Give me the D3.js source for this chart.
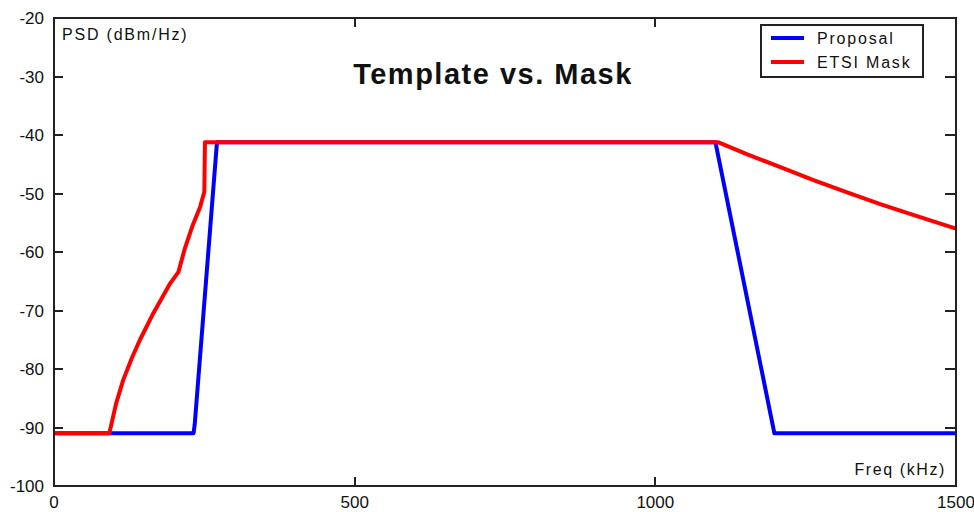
<html>
<head>
<title>Template vs. Mask</title>
<style>
body { margin: 0; background: #fff; }
text { font-family: "Liberation Sans", Arial, sans-serif; fill: #111; }
</style>
</head>
<body>
<svg id="chart" width="974" height="512"></svg>
<script src="https://cdn.jsdelivr.net/npm/d3@7"></script>
<script>
// values
const xTicks = [0, 500, 1000, 1500];
const yTicks = [-20, -30, -40, -50, -60, -70, -80, -90, -100];

const proposalFreq = [0, 232, 234, 271, 1100, 1198, 1500];
const proposalPsd  = [-91, -91, -89.5, -41.25, -41.25, -91, -91];

const maskFreq = [0, 92, 103, 115, 130, 143, 165, 193, 207, 217, 230, 243, 250, 251, 1105, 1153, 1208, 1263, 1319, 1374, 1430, 1500];
const maskPsd  = [-91, -91, -86, -81.9, -78, -75, -70.5, -65.4, -63.4, -59.6, -55.6, -52.3, -49.7, -41.25, -41.25, -43.3, -45.5, -47.7, -49.8, -51.8, -53.7, -56.0];

const seriesNames = ["Proposal", "ETSI Mask"];
const seriesColors = ["#0000ff", "#ff0000"];

const margin = {left: 54, top: 18, right: 18, bottom: 26};
const W = 974, H = 512;
const w = W - margin.left - margin.right;
const h = H - margin.top - margin.bottom;

const svg = d3.select("#chart");
const g = svg.append("g").attr("transform", `translate(${margin.left},${margin.top})`);

const x = d3.scaleLinear().domain([0, 1500]).range([0, w]);
const y = d3.scaleLinear().domain([-100, -20]).range([h, 0]);

// inner tick marks
const inner = yTicks.filter(v => v > -100 && v < -20);
g.selectAll(".ytl").data(inner).join("line")
  .attr("x1", 0).attr("x2", 9)
  .attr("y1", d => y(d)).attr("y2", d => y(d))
  .attr("stroke", "#222").attr("stroke-width", 2).attr("shape-rendering", "crispEdges");
g.selectAll(".ytr").data(inner).join("line")
  .attr("x1", w - 11).attr("x2", w)
  .attr("y1", d => y(d)).attr("y2", d => y(d))
  .attr("stroke", "#222").attr("stroke-width", 2).attr("shape-rendering", "crispEdges");
const innerX = xTicks.filter(v => v > 0 && v < 1500);
g.selectAll(".xtb").data(innerX).join("line")
  .attr("x1", d => x(d)).attr("x2", d => x(d))
  .attr("y1", h - 9).attr("y2", h)
  .attr("stroke", "#222").attr("stroke-width", 2).attr("shape-rendering", "crispEdges");
g.selectAll(".xtt").data(innerX).join("line")
  .attr("x1", d => x(d)).attr("x2", d => x(d))
  .attr("y1", 0).attr("y2", 9)
  .attr("stroke", "#222").attr("stroke-width", 2).attr("shape-rendering", "crispEdges");

// tick labels
g.selectAll(".yl").data(yTicks).join("text")
  .attr("x", -10).attr("y", d => y(d)).attr("dy", "0.36em")
  .attr("text-anchor", "end").attr("font-size", 17)
  .text(d => d);
g.selectAll(".xl").data(xTicks).join("text")
  .attr("x", d => x(d)).attr("y", h + 22)
  .attr("text-anchor", "middle").attr("font-size", 17)
  .text(d => d);

// series
const line = d3.line().x(d => x(d[0])).y(d => y(d[1]));
const series = [
  d3.zip(proposalFreq, proposalPsd),
  d3.zip(maskFreq, maskPsd)
];
g.selectAll(".series").data(series).join("path")
  .attr("d", line)
  .attr("fill", "none")
  .attr("stroke", (d, i) => seriesColors[i])
  .attr("stroke-width", 4)
  .attr("stroke-linejoin", "round");

// frame
g.append("rect").attr("x", 0).attr("y", 0).attr("width", w).attr("height", h)
  .attr("fill", "none").attr("stroke", "#222").attr("stroke-width", 2)
  .attr("shape-rendering", "crispEdges");

// axis titles
g.append("text").attr("x", 8).attr("y", 22)
  .attr("font-size", 16).attr("letter-spacing", 1.8)
  .text("PSD (dBm/Hz)");
g.append("text").attr("x", w - 10).attr("y", h - 11)
  .attr("text-anchor", "end").attr("font-size", 16).attr("letter-spacing", 1.6)
  .text("Freq (kHz)");

// title
g.append("text").attr("x", 439).attr("y", 66)
  .attr("text-anchor", "middle").attr("font-size", 29).attr("font-weight", "bold")
  .attr("letter-spacing", 1.5)
  .text("Template vs. Mask");

// legend
const lg = g.append("g").attr("transform", "translate(707,7)");
lg.append("rect").attr("width", 162).attr("height", 52)
  .attr("fill", "#fff").attr("stroke", "#222").attr("stroke-width", 2)
  .attr("shape-rendering", "crispEdges");
const items = lg.selectAll(".item").data(seriesNames).join("g")
  .attr("transform", (d, i) => `translate(0,${13 + i * 24})`);
items.append("line").attr("x1", 10).attr("x2", 43)
  .attr("stroke", (d, i) => seriesColors[i]).attr("stroke-width", 4);
items.append("text").attr("x", 56).attr("y", 0).attr("dy", "0.36em")
  .attr("font-size", 16).attr("letter-spacing", 1.8)
  .text(d => d);
</script>
</body>
</html>
